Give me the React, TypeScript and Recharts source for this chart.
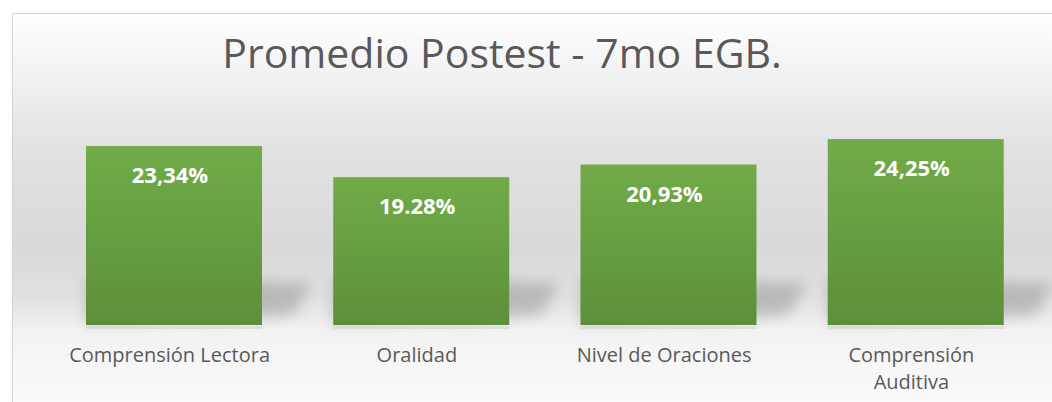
import { BarChart, Bar, XAxis, YAxis, LabelList } from "recharts";

const categories = ["Comprensión Lectora", "Oralidad", "Nivel de Oraciones", "Comprensión Auditiva"];
const values = [23.34, 19.28, 20.93, 24.25];
const valueLabels = ["23,34%", "19.28%", "20,93%", "24,25%"];

const data = categories.map((name, i) => ({ name, value: values[i], label: valueLabels[i] }));

const font = "'Open Sans', 'Noto Sans', sans-serif";

function BarWithShadow(props: any) {
  const { x, y, width, height } = props;
  const base = y + height;
  return (
    <g>
      <polygon
        points={`${x},${base - 48} ${x + width + 50},${base - 42} ${x + width + 32},${base - 10} ${x},${base - 1}`}
        fill="#999999"
        opacity={0.55}
        filter="url(#shadowBlur)"
      />
      <rect x={x} y={base + 1} width={width} height={3} fill="#d0d0d0" opacity={0.5} />
      <rect x={x} y={y} width={width} height={height} fill="url(#barFill)" />
    </g>
  );
}

function CategoryTick(props: any) {
  const { x, y, payload } = props;
  const text: string = payload.value;
  const lines = text.length > 19 ? text.split(" ") : [text];
  return (
    <text x={x - 4} y={y + 29} textAnchor="middle" fill="#595959" fontSize={20} fontFamily={font}>
      {lines.map((l, i) => (
        <tspan key={i} x={x - 4} dy={i === 0 ? 0 : 27}>
          {l}
        </tspan>
      ))}
    </text>
  );
}

function ValueLabel(props: any) {
  const { x, y, width, value } = props;
  return (
    <text x={x + width / 2 - 4} y={y + 37} textAnchor="middle" fill="#ffffff" fontSize={22} fontWeight={700} fontFamily={font}>
      {value}
    </text>
  );
}

export default function App() {
  return (
    <div style={{ position: "absolute", left: 0, top: 0, width: 1052, height: 402, overflow: "hidden", background: "#fff" }}>
      <div
        style={{
          position: "absolute",
          left: 12,
          top: 13,
          width: 1060,
          height: 400,
          border: "1px solid #d4d4d4",
          background:
            "linear-gradient(to bottom, #ffffff 0%, #e2e2e2 33%, #d9d9d9 58%, #e1e1e1 71%, #f2f2f2 79%, #fcfcfc 100%)",
        }}
      />
      <div
        style={{
          position: "absolute",
          left: 0,
          width: 1004,
          top: 20,
          textAlign: "center",
          fontFamily: font,
          fontSize: 41,
          color: "#595959",
          lineHeight: "64px",
        }}
      >
        Promedio Postest - 7mo EGB.
      </div>
      <div style={{ position: "absolute", left: 0, top: 0 }}>
        <BarChart width={1052} height={402} data={data} margin={{ top: 95, right: 13, bottom: 17, left: 50 }}>
          <defs>
            <linearGradient id="barFill" x1="0" y1="0" x2="0" y2="1">
              <stop offset="0%" stopColor="#71ac48" />
              <stop offset="100%" stopColor="#5c8f3a" />
            </linearGradient>
            <filter id="shadowBlur" x="-30%" y="-80%" width="160%" height="260%">
              <feGaussianBlur stdDeviation="7" />
            </filter>
          </defs>
          <XAxis dataKey="name" axisLine={false} tickLine={false} height={60} interval={0} tick={<CategoryTick />} />
          <YAxis hide domain={[0, 30]} />
          <Bar dataKey="value" barSize={176} shape={<BarWithShadow />} isAnimationActive={false}>
            <LabelList dataKey="label" content={<ValueLabel />} />
          </Bar>
        </BarChart>
      </div>
    </div>
  );
}
